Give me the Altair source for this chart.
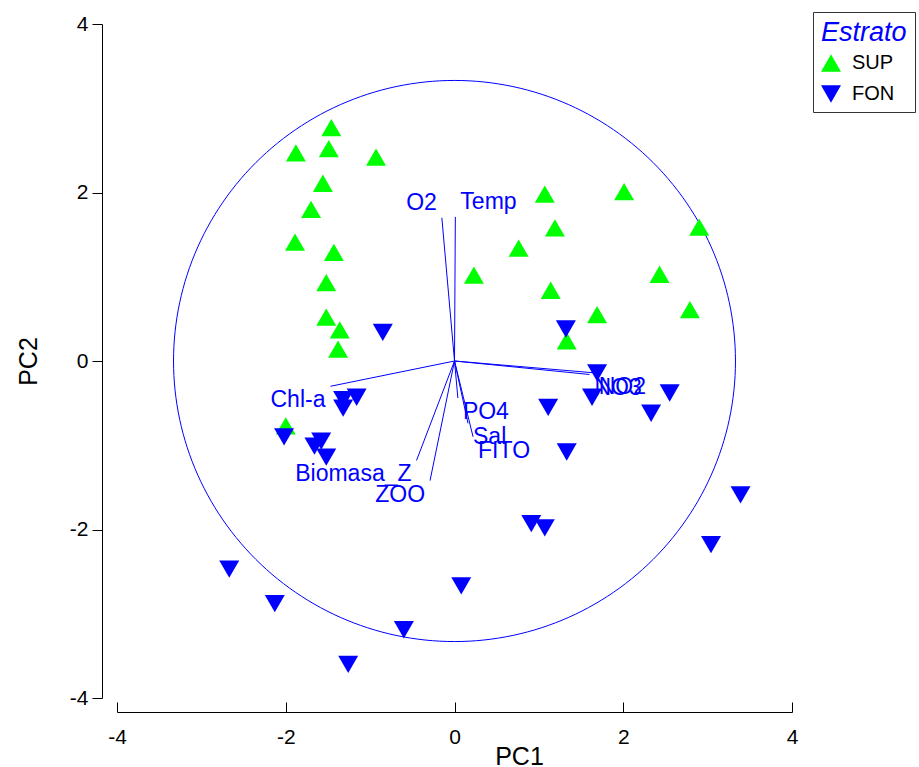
import altair as alt
import numpy as np
import pandas as pd

FONT = "Liberation Sans"
GREEN = "#00FF00"
BLUE = "#0000FF"

# Sample scores on the first two principal components
sup_pc1 = [-1.46, -1.88, -1.49, -0.93, -1.56, -1.70, -1.89, -1.43, -1.52, -1.52,
           -1.36, -1.38, 1.07, 2.01, 1.19, 0.76, 0.23, 2.90, 2.43, 1.14,
           1.69, 2.79, 1.33, -2.00]
sup_pc2 = [2.77, 2.47, 2.52, 2.42, 2.11, 1.80, 1.41, 1.29, 0.93, 0.52,
           0.37, 0.14, 1.98, 2.01, 1.58, 1.34, 1.02, 1.59, 1.03, 0.84,
           0.55, 0.61, 0.24, -0.77]
fon_pc1 = [-0.85, 1.32, 1.69, 1.63, 1.11, 2.55, 2.33, 1.33, -1.16, -1.32,
           -1.32, -2.02, -1.58, -1.66, -1.52, 0.91, 1.07, 0.08, -0.60, -1.26,
           -2.13, -2.67, 3.39, 3.04]
fon_pc2 = [0.34, 0.38, -0.14, -0.43, -0.55, -0.38, -0.62, -1.08, -0.43, -0.46,
           -0.56, -0.90, -0.95, -1.01, -1.14, -1.93, -1.98, -2.67, -3.19, -3.60,
           -2.88, -2.47, -1.59, -2.18]

# Variable loadings (vector end points)
var_names = ["O2", "Temp", "NO3", "NO2", "Chl-a", "Biomasa_Z", "ZOO", "PO4", "Sal", "FITO"]
var_pc1 = [-0.15, 0.01, 1.60, 1.65, -1.47, -0.45, -0.29, 0.04, 0.16, 0.22]
var_pc2 = [1.70, 1.71, -0.16, -0.14, -0.30, -1.18, -1.42, -0.44, -0.74, -0.90]

CIRCLE_R = 3.33

samples = pd.DataFrame({
    "PC1": sup_pc1 + fon_pc1,
    "PC2": sup_pc2 + fon_pc2,
    "Estrato": ["SUP"] * len(sup_pc1) + ["FON"] * len(fon_pc1),
})

vectors = pd.DataFrame({"name": var_names, "PC1": var_pc1, "PC2": var_pc2})
vectors["ox"] = 0.0
vectors["oy"] = 0.0
vectors["side"] = np.where(vectors["PC1"] >= 0, "R", "L")
vectors["vert"] = np.where(vectors["PC2"] >= 0, "U", "D")

theta = np.linspace(0, 2 * np.pi, 241)
circle = pd.DataFrame({
    "PC1": CIRCLE_R * np.cos(theta),
    "PC2": CIRCLE_R * np.sin(theta),
    "i": np.arange(len(theta)),
})

xs = alt.Scale(domain=[-4, 4], nice=False, zero=False)
ys = alt.Scale(domain=[-4, 4], nice=False, zero=False)

# plain hyphen-minus tick labels
tick_label = "toString(datum.value)"

x_axis = alt.Axis(
    values=[-4, -2, 0, 2, 4], labelExpr=tick_label, labelFlush=False,
    grid=False, offset=14, tickSize={"expr": "-10"}, labelPadding=24,
    title="PC1", titleX=402, titlePadding=-3,
)
y_axis = alt.Axis(
    values=[-4, -2, 0, 2, 4], labelExpr=tick_label, labelFlush=False,
    grid=False, offset=15, tickSize=10, labelPadding=4,
    title="PC2", titlePadding=28,
)

points = alt.Chart(samples).mark_point(filled=True, size=400, opacity=1, strokeWidth=0).encode(
    x=alt.X("PC1:Q", scale=xs, axis=x_axis),
    y=alt.Y("PC2:Q", scale=ys, axis=y_axis),
    color=alt.Color(
        "Estrato:N",
        scale=alt.Scale(domain=["SUP", "FON"], range=[GREEN, BLUE]),
        legend=alt.Legend(title="Estrato"),
    ),
    shape=alt.Shape(
        "Estrato:N",
        scale=alt.Scale(domain=["SUP", "FON"], range=["triangle-up", "triangle-down"]),
        legend=alt.Legend(title="Estrato"),
    ),
)

ring = alt.Chart(circle).mark_line(color=BLUE, strokeWidth=1).encode(
    x=alt.X("PC1:Q", scale=xs),
    y=alt.Y("PC2:Q", scale=ys),
    order="i:Q",
)

arrows = alt.Chart(vectors).mark_rule(color=BLUE, strokeWidth=1).encode(
    x=alt.X("ox:Q", scale=xs),
    y=alt.Y("oy:Q", scale=ys),
    x2="PC1:Q",
    y2="PC2:Q",
)

label_layers = []
for side, align, dx in [("R", "left", 5), ("L", "right", -5)]:
    for vert, baseline, dy in [("U", "bottom", -3), ("D", "top", 3)]:
        label_layers.append(
            alt.Chart(vectors)
            .transform_filter(
                (alt.datum.side == side) & (alt.datum.vert == vert)
            )
            .mark_text(align=align, baseline=baseline, dx=dx, dy=dy,
                       font=FONT, fontSize=23, color=BLUE)
            .encode(
                x=alt.X("PC1:Q", scale=xs),
                y=alt.Y("PC2:Q", scale=ys),
                text="name:N",
            )
        )

chart = (
    alt.layer(ring, arrows, *label_layers, points)
    .properties(
        width=675, height=674,
        autosize=alt.AutoSizeParams(type="none"),
        padding={"left": 117, "top": 24, "right": 127, "bottom": 69},
        background="white",
    )
    .configure_view(stroke=None)
    .configure_axis(
        domainColor="black", tickColor="black", domainWidth=1, tickWidth=1,
        labelFont=FONT, labelFontSize=21, labelColor="black",
        titleFont=FONT, titleFontSize=25, titleFontWeight="normal", titleColor="black",
    )
    .configure_legend(
        orient="none", legendX=696, legendY=-12,
        strokeColor="#333333", fillColor="white", padding=8,
        titleFont=FONT, titleFontSize=27, titleFontStyle="italic",
        titleFontWeight="normal", titleColor=BLUE, titlePadding=6,
        labelFont=FONT, labelFontSize=20, labelColor="black", labelOffset=11,
        symbolSize=400, symbolStrokeWidth=0, rowPadding=11,
    )
)

chart.save("out.html", embed_options={"renderer": "svg", "actions": False})
